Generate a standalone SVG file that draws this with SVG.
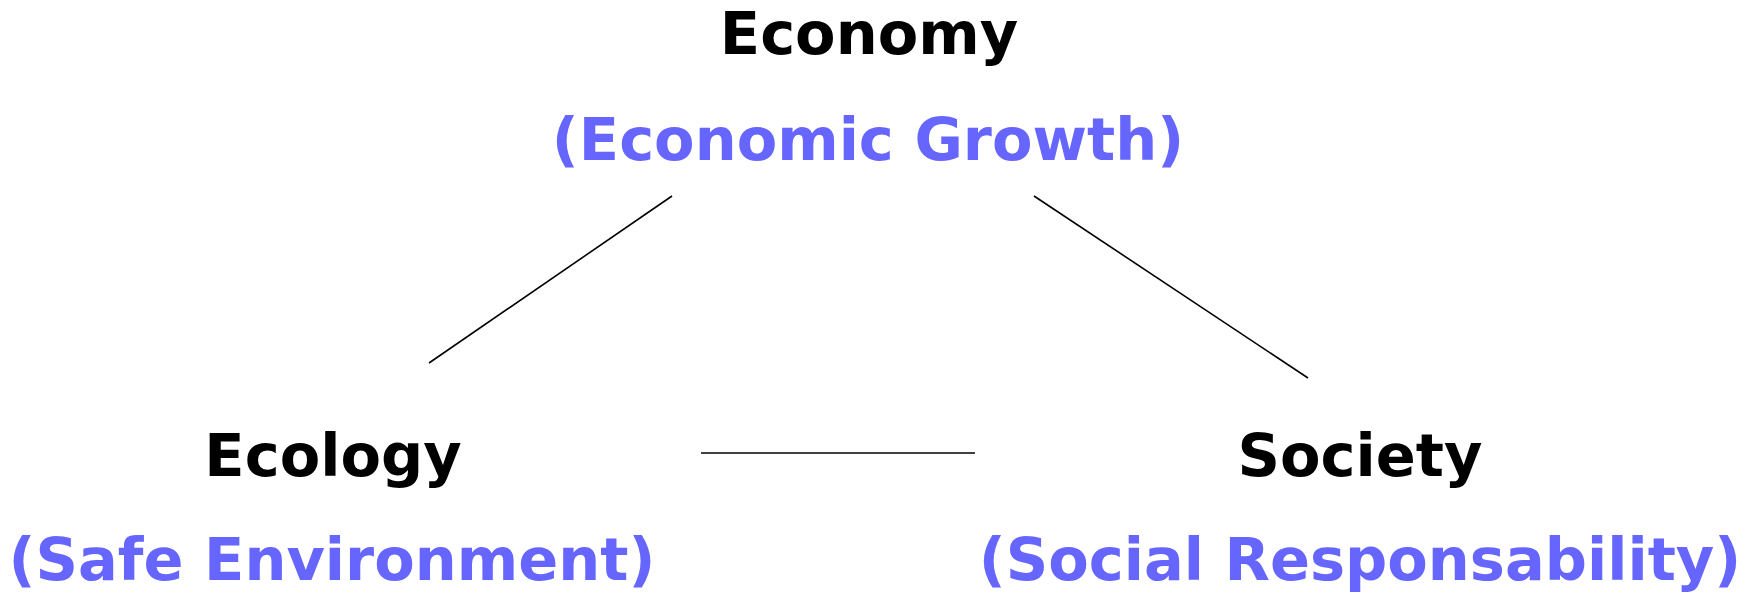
<svg xmlns="http://www.w3.org/2000/svg" width="1757" height="593" viewBox="0 0 1757 593">
<style>
.t{font-family:"DejaVu Sans","Verdana",sans-serif;font-weight:bold;font-size:59px;text-anchor:middle}
.h{fill:#000000}
.s{fill:#6666FF}
.c{stroke:#000000;stroke-width:1.6;fill:none}
</style>
<rect width="1757" height="593" fill="#ffffff"/>
<g id="economy">
<text class="t h" x="869" y="54">Economy</text>
<text class="t s" x="868" y="160">(Economic Growth)</text>
</g>
<g id="ecology">
<text class="t h" x="333" y="476">Ecology</text>
<text class="t s" x="332" y="580">(Safe Environment)</text>
</g>
<g id="society">
<text class="t h" x="1360" y="476">Society</text>
<text class="t s" x="1360" y="580">(Social Responsability)</text>
</g>
<g id="connectors">
<line class="c" x1="672" y1="196" x2="429" y2="363"/>
<line class="c" x1="1034" y1="196" x2="1308" y2="378"/>
<line class="c" x1="701" y1="453" x2="975" y2="453"/>
</g>
</svg>
